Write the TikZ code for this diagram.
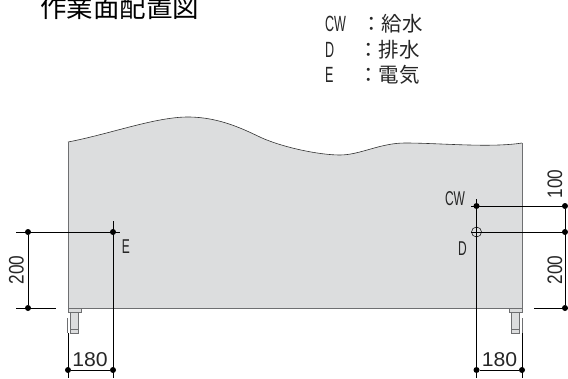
\documentclass[tikz,border=0pt]{standalone}
\usepackage{fontspec}
\setmainfont{Liberation Sans}
\newfontfamily\cjk{Noto Sans CJK JP}
\definecolor{panelgray}{HTML}{DCDDDE}
\definecolor{edgegray}{HTML}{6E6F71}
\tikzset{
  dimline/.style={draw=black,line width=0.7pt},
  dimdot/.style={circle,fill=black,inner sep=0pt,minimum size=6pt},
  dimtext/.style={inner sep=0pt,font=\fontsize{20}{20}\selectfont,text=black!85,xscale=1.06},
  sidetext/.style={inner sep=0pt,font=\fontsize{21}{21}\selectfont,text=black!85,rotate=90,xscale=0.82},
  marktext/.style={inner sep=0pt,font=\fontsize{20}{20}\selectfont,text=black!85,xscale=0.6},
  keytext/.style={inner sep=0pt,anchor=west,font=\fontsize{22}{22}\selectfont,text=black!85,xscale=0.57},
  legendtext/.style={inner sep=0pt,anchor=west,font=\cjk\fontsize{20.5}{20.5}\selectfont,text=black!85},
  legtube/.style={fill=panelgray,draw=edgegray,line width=0.7pt}
}
\begin{document}
\begin{tikzpicture}[x=1pt,y=-1pt]
\useasboundingbox (0,0) rectangle (568,378);
\fill[panelgray] (68,142) .. controls (110,134) and (155,117) .. (188,117) .. controls (220,117) and (245,130) .. (262,138) .. controls (285,148) and (320,155) .. (340,155) .. controls (360,155) and (380,143) .. (405,143) .. controls (440,143) and (490,148) .. (522,143) -- (522,308) -- (68,308) -- cycle;
\draw[line width=0.6pt,black!80] (68,142) .. controls (110,134) and (155,117) .. (188,117) .. controls (220,117) and (245,130) .. (262,138) .. controls (285,148) and (320,155) .. (340,155) .. controls (360,155) and (380,143) .. (405,143) .. controls (440,143) and (490,148) .. (522,143);
\draw[edgegray,line width=1pt] (68,142) -- (68,308) -- (522,308) -- (522,143);
\foreach \x in {68,509} {
\draw[legtube] (\x,308) rectangle (\x+13,312);
\draw[legtube] (\x+2.5,312) rectangle (\x+10,333);
\draw[legtube] (\x+2.5,329) rectangle (\x+10,333);
}
\draw[edgegray,line width=0.8pt] (67,318) -- (67,333);
\draw[edgegray,line width=0.8pt] (522,318) -- (522,333);
\coordinate (el) at (16,232);
\coordinate (er) at (120,232);
\coordinate (et) at (113,221);
\coordinate (eb) at (113,378);
\coordinate (bl) at (16,308);
\coordinate (br) at (56,308);
\coordinate (lb) at (68,333);
\coordinate (le) at (68,378);
\coordinate (ct) at (476.5,199);
\coordinate (cb) at (476.5,378);
\coordinate (cl) at (471,206);
\coordinate (cr) at (565,206);
\coordinate (dl) at (471,232);
\coordinate (dr) at (565,232);
\coordinate (rl) at (534,308);
\coordinate (rr) at (570,308);
\coordinate (rt) at (522,333);
\coordinate (re) at (522,378);
\node[dimdot] (e1) at (28,232) {};
\node[dimdot] (e2) at (113,232) {};
\node[dimdot] (e3) at (28,308) {};
\node[dimdot] (b1) at (68,370) {};
\node[dimdot] (b2) at (113,370) {};
\node[dimdot] (b3) at (476.5,370) {};
\node[dimdot] (b4) at (522,370) {};
\node[dimdot] (c1) at (476.5,206) {};
\node[dimdot] (c2) at (565,206) {};
\node[dimdot] (d2) at (565,232) {};
\node[dimdot] (d3) at (565,308) {};
\node[circle,draw=black,line width=0.5pt,inner sep=0pt,minimum size=10pt] (d1) at (476.5,232) {};
\draw[dimline] (el) -- (er);
\draw[dimline] (et) -- (eb);
\draw[dimline] (bl) -- (br);
\draw[dimline] (e1) -- (e3);
\draw[dimline] (lb) -- (le);
\draw[dimline] (b1) -- (b2);
\draw[dimline] (ct) -- (cb);
\draw[dimline] (cl) -- (cr);
\draw[dimline] (dl) -- (dr);
\draw[dimline] (c2) -- (d3);
\draw[dimline] (rl) -- (rr);
\draw[dimline] (rt) -- (re);
\draw[dimline] (b3) -- (b4);
\node[dimtext] (s1) at (90,360) {180};
\node[dimtext] (s2) at (499.5,360) {180};
\node[sidetext] (s3) at (16.5,270) {200};
\node[sidetext] (s4) at (555,270) {200};
\node[sidetext] (s5) at (555,184) {100};
\node[marktext] (m1) at (126,246.5) {E};
\node[marktext] (m2) at (455,198.5) {CW};
\node[marktext] (m3) at (462.5,249) {D};
\node[inner sep=0pt,anchor=west,font=\cjk\fontsize{26.5}{26.5}\selectfont] (title) at (40,7) {作業面配置図};
\node[keytext] (k1) at (325,23.5) {CW};
\node[keytext] (k2) at (325,50) {D};
\node[keytext] (k3) at (325,75) {E};
\node[legendtext] (v1) at (361,24) {：給水};
\node[legendtext] (v2) at (358,50) {：排水};
\node[legendtext] (v3) at (358,75) {：電気};
\end{tikzpicture}
\end{document}
